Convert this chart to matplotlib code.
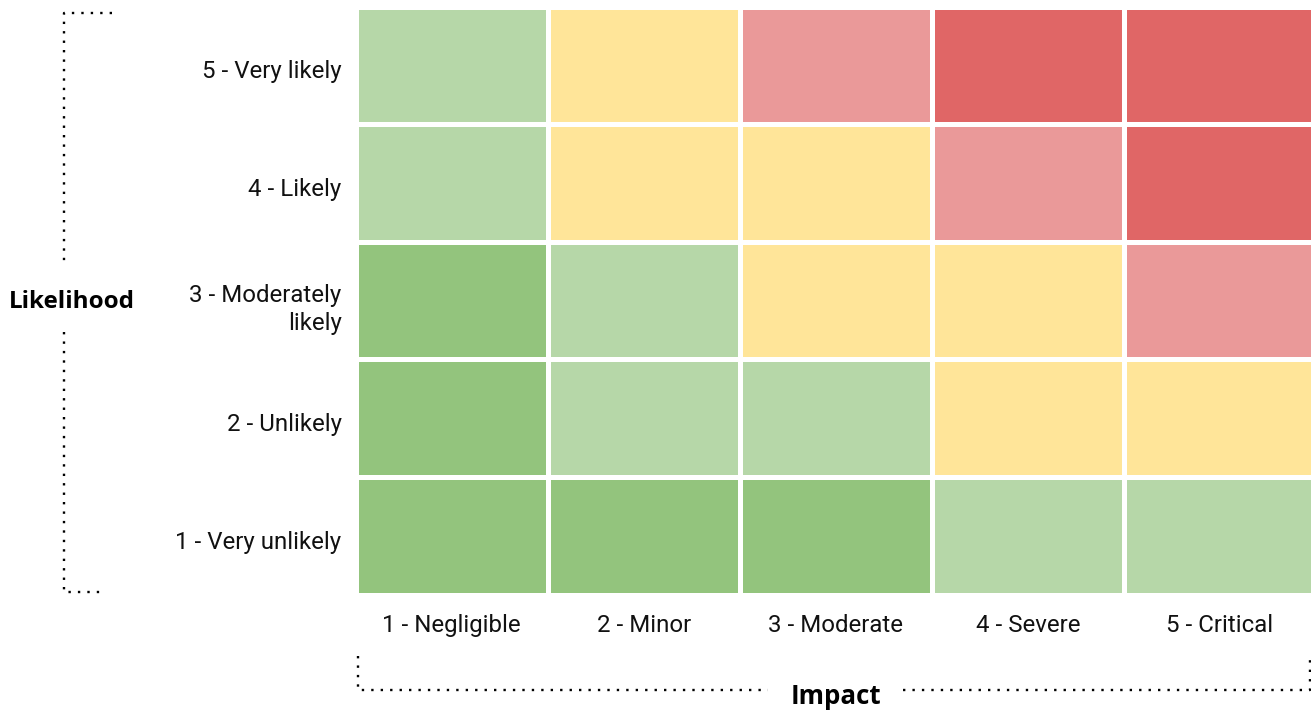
import numpy as np
import matplotlib
matplotlib.use("Agg")
import matplotlib.pyplot as plt
from matplotlib.colors import ListedColormap
from matplotlib.transforms import ScaledTranslation

# risk levels, rows from "1 - Very unlikely" (bottom) to "5 - Very likely" (top)
impact_labels = ["1 - Negligible", "2 - Minor", "3 - Moderate", "4 - Severe", "5 - Critical"]
likelihood_labels = ["1 - Very unlikely", "2 - Unlikely", "3 - Moderately\nlikely", "4 - Likely", "5 - Very likely"]
risk = [
    [0, 0, 0, 1, 1],
    [0, 1, 1, 2, 2],
    [0, 1, 2, 2, 3],
    [1, 2, 2, 3, 4],
    [1, 2, 3, 4, 4],
]
level_colors = ["#93c47d", "#b6d7a8", "#ffe599", "#ea9999", "#e06666"]

W, H = 1311, 713
fig = plt.figure(figsize=(W / 100, H / 100), dpi=100)
plt.rcParams["font.family"] = "Roboto"

# pixel box of the grid (including half of the white gutters)
left, right, top, bottom = 355.5, 1316, 6.5, 594.5
ax = fig.add_axes([left / W, 1 - bottom / H, (right - left) / W, (bottom - top) / H])
cmap = ListedColormap(level_colors)
ax.pcolormesh(np.array(risk), cmap=cmap, vmin=-0.5, vmax=4.5,
              edgecolors="white", linewidth=3.6)
ax.set_xlim(0, 5)
ax.set_ylim(0, 5)
for s in ax.spines.values():
    s.set_visible(False)
ax.set_xticks(np.arange(5) + 0.5)
ax.set_xticklabels(impact_labels, fontsize=17.3, color="#111111")
ax.set_yticks(np.arange(5) + 0.5)
ax.set_yticklabels(likelihood_labels, fontsize=17.3, color="#111111", ha="right",
                   linespacing=1.28)
ax.tick_params(axis="x", length=0, pad=14)
ax.tick_params(axis="y", length=0, pad=10)
shift = ScaledTranslation(0, -4 / 100, fig.dpi_scale_trans)
for lab in ax.get_yticklabels():
    lab.set_transform(lab.get_transform() + shift)

# overlay in pixel coordinates for the brackets and axis titles
ov = fig.add_axes([0, 0, 1, 1])
ov.set_xlim(0, W)
ov.set_ylim(H, 0)
ov.axis("off")
ov.patch.set_alpha(0)
dot = dict(color="black", linewidth=1.7, linestyle=(0, (1, 3.0)))
ov.plot([112, 64, 64], [13, 13, 265], **dot)
ov.plot([64, 64, 103], [332, 592, 592], **dot)
ov.plot([358, 358, 768], [656, 690, 690], **dot)
ov.plot([903, 1310, 1310], [690, 690, 656], **dot)

ov.text(71.5, 302, "Likelihood", fontsize=17.5, fontweight="bold", family="Open Sans",
        ha="center", va="center", color="black")
ov.text(835.5, 696, "Impact", fontsize=18.6, fontweight="bold", family="Open Sans",
        ha="center", va="center", color="black")

fig.savefig("out.png", dpi=100, facecolor="white")
